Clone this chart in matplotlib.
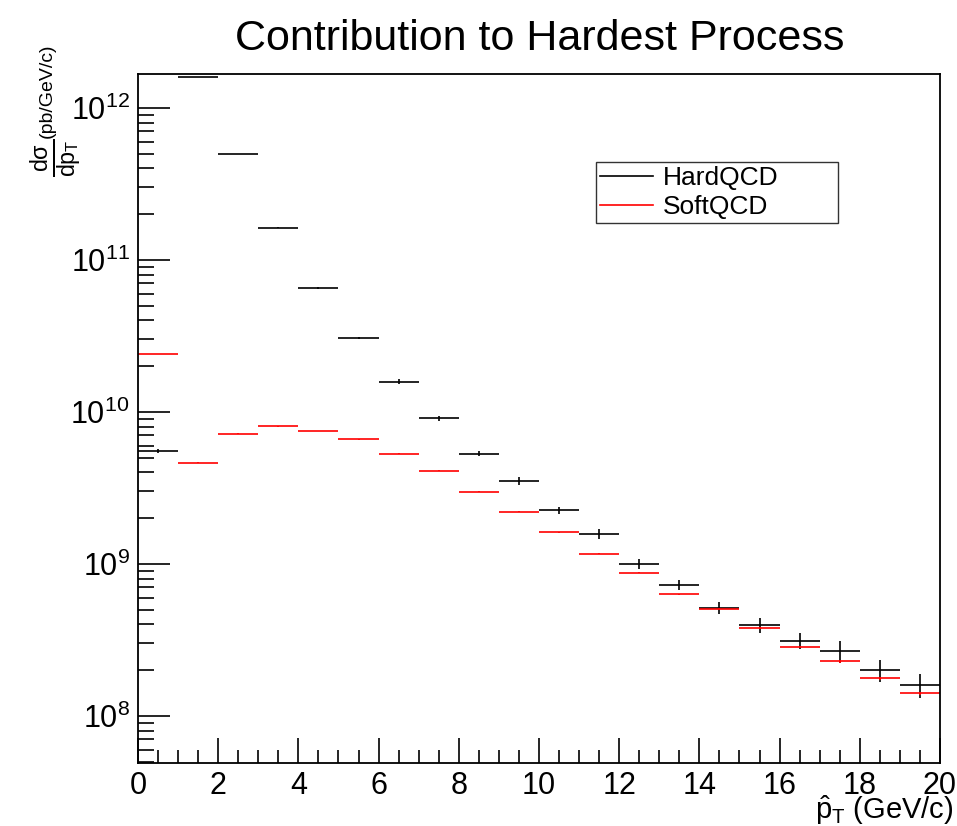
import numpy as np
import matplotlib
matplotlib.use('Agg')
import matplotlib.pyplot as plt
from matplotlib.lines import Line2D
from matplotlib.ticker import LogLocator, MultipleLocator

# pT-hat bins, 1 GeV/c wide, 0..20
bin_lo = np.arange(0, 20)
bin_width = 1.0

hard_qcd = [5.54e9, 1.59e12, 4.98e11, 1.63e11, 6.52e10, 3.08e10, 1.58e10, 9.1e9,
            5.3e9, 3.50e9, 2.25e9, 1.58e9, 1.0e9, 7.31e8, 5.16e8, 3.97e8,
            3.12e8, 2.68e8, 2.01e8, 1.60e8]
hard_err = [1.7e8, 5e9, 2.5e9, 1.3e9, 6.5e8, 4.6e8, 6e8, 3.5e8,
            2e8, 2.2e8, 1.2e8, 1.25e8, 7e7, 5.8e7, 4.9e7, 4.4e7,
            3.7e7, 4.4e7, 3.3e7, 2.9e7]

soft_qcd = [2.40e10, 4.64e9, 7.17e9, 8.02e9, 7.50e9, 6.61e9, 5.29e9, 4.09e9,
            2.99e9, 2.20e9, 1.62e9, 1.17e9, 8.73e8, 6.31e8, 5.04e8, 3.77e8,
            2.86e8, 2.28e8, 1.77e8, 1.41e8]
soft_err = [1.5e8, 3e7, 4e7, 4e7, 4e7, 4e7, 4e7, 3e7,
            2e7, 1.5e7, 1.2e7, 1e7, 8e6, 7e6, 6e6, 5e6,
            4e6, 4e6, 3.5e6, 3e6]

plt.rcParams['font.family'] = ['Liberation Sans', 'DejaVu Sans']
plt.rcParams['mathtext.fontset'] = 'custom'
plt.rcParams['mathtext.rm'] = 'Liberation Sans'
plt.rcParams['mathtext.it'] = 'Liberation Sans'
plt.rcParams['mathtext.bf'] = 'Liberation Sans:bold'

fig = plt.figure(figsize=(9.57, 8.26), dpi=100)
ax = fig.add_axes([0.1442, 0.0763, 0.8380, 0.8341])

centers = bin_lo + bin_width / 2
ax.errorbar(centers, hard_qcd, xerr=bin_width / 2, yerr=hard_err, fmt='none',
            ecolor='black', elinewidth=1.2, capsize=0)
ax.errorbar(centers, soft_qcd, xerr=bin_width / 2, yerr=soft_err, fmt='none',
            ecolor='#ff0000', elinewidth=1.2, capsize=0)

ax.set_yscale('log')
ax.set_xlim(0, 20)
ax.set_ylim(4.9e7, 1.67e12)

ax.xaxis.set_major_locator(MultipleLocator(2))
ax.xaxis.set_minor_locator(MultipleLocator(0.5))
ax.yaxis.set_major_locator(LogLocator(base=10))
ax.yaxis.set_minor_locator(LogLocator(base=10, subs=np.arange(2, 10)))
ax.yaxis.set_minor_formatter(plt.NullFormatter())

ax.tick_params(axis='both', which='both', direction='in', top=False, right=False,
               width=1.2, colors='black', labelsize=22)
ax.tick_params(axis='x', which='major', length=18, pad=6)
ax.tick_params(axis='x', which='minor', length=9.5)
ax.tick_params(axis='y', which='major', length=23, pad=6)
ax.tick_params(axis='y', which='minor', length=11.5)
for sp in ax.spines.values():
    sp.set_linewidth(1.3)

fig.text(0.564, 1 - 50 / 826, 'Contribution to Hardest Process', ha='center',
         va='baseline', fontsize=31)

# y title, ROOT style: aligned at the top end of the axis
# (fraction drawn bigger since mathtext shrinks numerator/denominator)
fig.text(0.049, 1 - 43 / 826, '(pb/GeV/c)', rotation=90, ha='center', va='top',
         fontsize=14)
fig.text(0.059, 1 - 138 / 826, r'$\frac{d\sigma}{dp_{T}}$', rotation=90,
         ha='center', va='top', fontsize=24)
fig.text(0.996, 7 / 826, r'$\hat{p}_{T}$ (GeV/c)', ha='right', va='baseline',
         fontsize=21)

handles = [Line2D([], [], color='black', lw=1.2), Line2D([], [], color='#ff0000', lw=1.2)]
leg = ax.legend(handles, ['HardQCD', 'SoftQCD'], loc='upper left',
                bbox_to_anchor=(596 / 957, 1 - 225 / 826, 242 / 957, 63 / 826),
                bbox_transform=fig.transFigure, mode='expand',
                fontsize=19, frameon=True, fancybox=False, handlelength=2.0,
                handletextpad=0.4, borderpad=0.15, labelspacing=0.2, borderaxespad=0)
leg.get_frame().set_edgecolor('black')
leg.get_frame().set_linewidth(1.0)

fig.savefig('out.png', dpi=100)
